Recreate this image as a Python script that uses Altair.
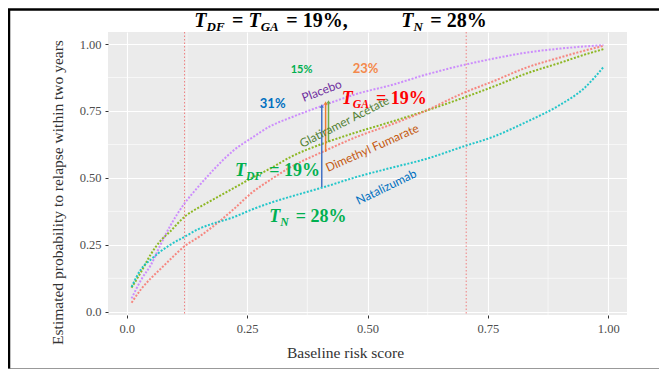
import altair as alt
import pandas as pd

# ---------------- data ----------------
risk = [0.01, 0.03, 0.05, 0.07, 0.09, 0.12, 0.15, 0.18, 0.22, 0.26, 0.30,
        0.34, 0.41, 0.48, 0.55, 0.62, 0.70, 0.76, 0.83, 0.90, 0.95, 0.99]
placebo = [0.05, 0.12, 0.175, 0.25, 0.32, 0.405, 0.47, 0.53, 0.60, 0.65, 0.695,
           0.725, 0.772, 0.815, 0.847, 0.885, 0.922, 0.945, 0.968, 0.983, 0.991, 0.996]
glatiramer = [0.09, 0.15, 0.215, 0.265, 0.30, 0.355, 0.39, 0.42, 0.46, 0.50, 0.537,
              0.578, 0.63, 0.672, 0.71, 0.75, 0.80, 0.84, 0.89, 0.93, 0.96, 0.981]
dimethyl = [0.034, 0.085, 0.125, 0.16, 0.195, 0.245, 0.28, 0.32, 0.38, 0.445, 0.495,
            0.54, 0.60, 0.655, 0.70, 0.75, 0.818, 0.86, 0.912, 0.95, 0.975, 0.993]
natalizumab = [0.093, 0.16, 0.195, 0.225, 0.25, 0.28, 0.31, 0.33, 0.352, 0.382, 0.408,
               0.43, 0.466, 0.505, 0.538, 0.57, 0.618, 0.653, 0.709, 0.773, 0.835, 0.914]

series_names = ["Dimethyl Fumarate", "Glatiramer Acetate", "Natalizumab", "Placebo"]
series_colors = ["#F8766D", "#7CAE00", "#00BFC4", "#C77CFF"]

cutoffs = [0.12, 0.705]
major_ticks = [0, 0.25, 0.5, 0.75, 1.0]
minor_ticks = [0.125, 0.375, 0.625, 0.875]

# arrows: benefit vs placebo at risk ~0.41
arrow_x = [0.405, 0.413, 0.419]
arrow_from = [0.466, 0.597, 0.634]
arrow_to = [0.769, 0.780, 0.784]
arrow_colors = ["#4472C4", "#ED7D31", "#70AD47"]

# curve labels
label_text = ["Placebo", "Glatiramer Acetate", "Dimethyl Fumarate", "Natalizumab"]
label_x = [0.405, 0.452, 0.51, 0.539]
label_y = [0.825, 0.709, 0.612, 0.466]
label_angle = [339, 333, 336, 334]
label_color = ["#7030A0", "#548235", "#C55A11", "#0070C0"]

# percentage labels
pct_text = ["15%", "23%", "31%"]
pct_x = [0.363, 0.496, 0.303]
pct_y = [0.903, 0.907, 0.776]
pct_color = ["#00B050", "#F4894B", "#0070C0"]
pct_size = [11, 13, 13]

# ---------------- build tables ----------------
rows = []
for name, vals in zip(["Placebo", "Glatiramer Acetate", "Dimethyl Fumarate", "Natalizumab"],
                      [placebo, glatiramer, dimethyl, natalizumab]):
    for r, v in zip(risk, vals):
        rows.append({"risk": r, "prob": v, "series": name})
curves_df = pd.DataFrame(rows)

XDOM = [-0.039, 1.039]
YDOM = [-0.012, 1.045]
xs = alt.Scale(domain=XDOM, nice=False, zero=False)
ys = alt.Scale(domain=YDOM, nice=False, zero=False)

label_expr = "datum.value == 0 ? '0.0' : format(datum.value, '.2f')"
x_axis = alt.Axis(values=major_ticks, labelExpr=label_expr,
                  title="Baseline risk score", grid=True,
                  titleX=237, titleY=37, titleBaseline="middle")
y_axis = alt.Axis(values=major_ticks, labelExpr=label_expr,
                  title="Estimated probability to relapse within two years", grid=True,
                  titleX=-51, titleY=160, titleBaseline="middle")

layers = []

# minor grid
minor_df = pd.DataFrame({"v": minor_ticks})
layers.append(alt.Chart(minor_df).mark_rule(color="white", strokeWidth=0.6).encode(
    x=alt.X("v:Q", scale=xs, axis=x_axis)))
layers.append(alt.Chart(minor_df).mark_rule(color="white", strokeWidth=0.6).encode(
    y=alt.Y("v:Q", scale=ys, axis=y_axis)))

# cutoff lines
cut_df = pd.DataFrame({"c": cutoffs})
layers.append(alt.Chart(cut_df).mark_rule(color="#F08080", strokeWidth=1,
                                          strokeDash=[1.5, 2]).encode(
    x=alt.X("c:Q", scale=xs, axis=x_axis)))

# curves
layers.append(alt.Chart(curves_df).mark_line(strokeDash=[2, 1.6], strokeWidth=2,
                                             interpolate="monotone", opacity=0.85).encode(
    x=alt.X("risk:Q", scale=xs, axis=x_axis),
    y=alt.Y("prob:Q", scale=ys, axis=y_axis),
    color=alt.Color("series:N", scale=alt.Scale(domain=series_names, range=series_colors),
                    legend=None),
))

# arrows
arr_df = pd.DataFrame({"x": arrow_x, "y0": arrow_from, "y1": arrow_to, "c": arrow_colors})
layers.append(alt.Chart(arr_df).mark_rule(strokeWidth=1.5).encode(
    x=alt.X("x:Q", scale=xs, axis=x_axis),
    y=alt.Y("y0:Q", scale=ys, axis=y_axis),
    y2="y1:Q",
    color=alt.Color("c:N", scale=None)))
layers.append(alt.Chart(arr_df).mark_point(shape="triangle-up", filled=True, size=16,
                                           opacity=1).encode(
    x=alt.X("x:Q", scale=xs, axis=x_axis),
    y=alt.Y("y1:Q", scale=ys, axis=y_axis),
    color=alt.Color("c:N", scale=None)))

# curve labels
for t, x, y, a, c in zip(label_text, label_x, label_y, label_angle, label_color):
    layers.append(alt.Chart().mark_text(text=t, angle=a, font="Lato", fontSize=12,
                                        color=c, align="center", baseline="middle").encode(
        x=alt.datum(x), y=alt.datum(y)))

# percentage labels
for t, x, y, c, s in zip(pct_text, pct_x, pct_y, pct_color, pct_size):
    layers.append(alt.Chart().mark_text(text=t, font="Lato", fontSize=s, fontWeight="bold",
                                        color=c, align="center", baseline="middle").encode(
        x=alt.datum(x), y=alt.datum(y)))

# math-like labels with subscripts
W_RM = {' ': 250, '=': 570, '1': 500, '9': 500, '2': 500, '8': 500, '%': 1000, ',': 250}
W_IT = {'T': 611, 'D': 722, 'F': 667, 'G': 722, 'A': 667, 'N': 722}


def seg_w(text, kind, size):
    if kind == "rm":
        return sum(W_RM.get(ch, 500) for ch in text) * size / 1000
    s = size * 0.65 if kind == "sub" else size
    return sum(W_IT.get(ch, 600) for ch in text) * s / 1000 + (2.5 if kind == "sub" else 0)


def math_label(segments, xpos, ypos, color, size, pixel=False):
    total = sum(seg_w(t, k, size) for t, k in segments)
    off = -total / 2
    out = []
    for t, k in segments:
        stripped = t.lstrip(" ")
        lead = seg_w(t[:len(t) - len(stripped)], "rm", size) if k == "rm" else 0
        fs = size * 0.65 if k == "sub" else size
        mk = alt.Chart().mark_text(
            text=stripped.rstrip(" "), font="Liberation Serif", fontSize=fs,
            fontWeight="bold", fontStyle="italic" if k != "rm" else "normal",
            color=color, align="left", baseline="alphabetic",
            dx=off + lead, dy=size * 0.22 if k == "sub" else 0)
        if pixel:
            mk = mk.encode(x=alt.value(xpos), y=alt.value(ypos))
        else:
            mk = mk.encode(x=alt.datum(xpos), y=alt.datum(ypos))
        out.append(mk)
        off += seg_w(t, k, size)
    return out


layers += math_label([("T", "it"), ("GA", "sub"), (" = 19%", "rm")], 0.535, 0.776, "#FF0000", 18)
layers += math_label([("T", "it"), ("DF", "sub"), (" = 19%", "rm")], 0.313, 0.507, "#00B050", 18)
layers += math_label([("T", "it"), ("N", "sub"), (" = 28%", "rm")], 0.376, 0.336, "#00B050", 18)

# title (pixel placement above the panel)
layers += math_label([("T", "it"), ("DF", "sub"), (" = ", "rm"), ("T", "it"), ("GA", "sub"),
                      (" = 19%,", "rm")], 163, -5, "#000000", 20, pixel=True)
layers += math_label([("T", "it"), ("N", "sub"), (" = 28%", "rm")], 336, -5, "#000000", 20,
                     pixel=True)

# frame lines
layers.append(alt.Chart().mark_rule(color="black", strokeWidth=2.5).encode(
    x=alt.value(-100), x2=alt.value(552), y=alt.value(-22.5)))
layers.append(alt.Chart().mark_rule(color="black", strokeWidth=2.5).encode(
    x=alt.value(-99), y=alt.value(-23), y2=alt.value(340)))
layers.append(alt.Chart().mark_rule(color="#777777", strokeWidth=1.5).encode(
    x=alt.value(-100), x2=alt.value(552), y=alt.value(337)))

chart = alt.layer(*layers).properties(
    width=519, height=283,
    padding={"left": 100, "top": 24, "right": 32, "bottom": 54},
    autosize="none",
    background="white",
).configure_view(
    fill="#EBEBEB", stroke=None
).configure_axis(
    domain=False, gridColor="white", gridWidth=1.1,
    tickColor="#333333", tickSize=3, labelFont="Liberation Serif", labelFontSize=12.5,
    labelColor="#4D4D4D", titleFont="Liberation Serif", titleFontSize=15.5,
    titleColor="#333333", titleFontWeight="normal", labelPadding=4
)

chart.save("out.html", embed_options={"renderer": "svg", "actions": False})
